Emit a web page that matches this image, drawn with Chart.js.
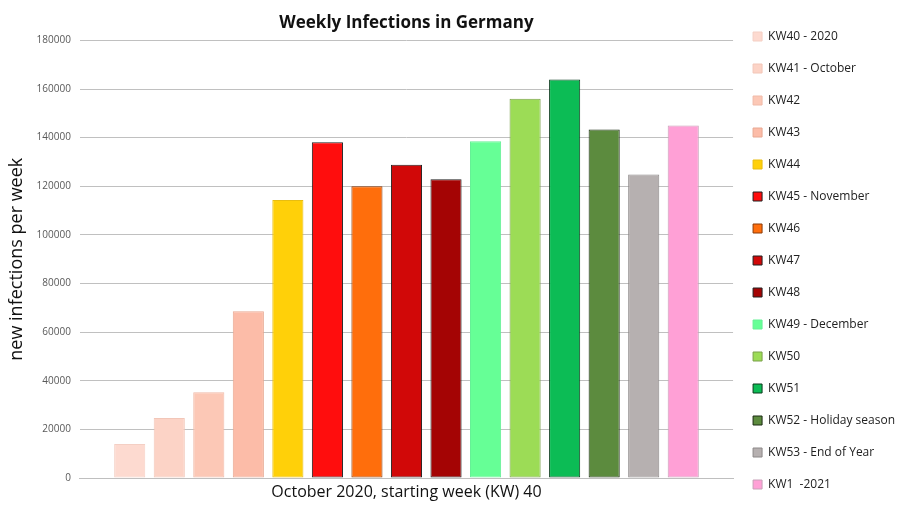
<!DOCTYPE html>
<html>
<head>
<meta charset="utf-8">
<script src="https://cdn.jsdelivr.net/npm/chart.js@4"></script>
<style>
  html, body { margin: 0; padding: 0; background: #fff; }
  #wrap { width: 909px; height: 512px; }
</style>
</head>
<body>
<div id="wrap"><canvas id="weekly_graph"></canvas></div>
<script>
// one category on the x axis, one dataset per week (like the original Excel chart)
var category = ["October 2020, starting week (KW) 40"];

var weeks = [
    "KW40 - 2020",
    "KW41 - October",
    "KW42",
    "KW43",
    "KW44",
    "KW45 - November",
    "KW46",
    "KW47",
    "KW48",
    "KW49 - December",
    "KW50",
    "KW51",
    "KW52 - Holiday season",
    "KW53 - End of Year",
    "KW1  -2021"
];

var infections = [
    14000, 24700, 35300, 68600, 114300,
    138100, 120000, 128900, 122900, 138500,
    156000, 163900, 143300, 124800, 145000
];

var fillColors = [
    "#FDDAD0", "#FCD3C6", "#FCC8B6", "#FCBCA8", "#FFD009",
    "#FF0D0D", "#FF6E0C", "#D10808", "#A40404", "#66FF96",
    "#9CDC56", "#0CBC55", "#5C8B3E", "#B6B0B0", "#FFA0D6"
];

var edgeColors = [
    "#F4CFC4", "#F2C6B8", "#F0BAA8", "#E8A892", "#E8BD10",
    "#202020", "#8A3A08", "#202020", "#202020", "#66F096",
    "#7AA04A", "#0A3A1C", "#1A2A12", "#8C8888", "#C8A0B8"
];

var datasets = weeks.map(function (w, i) {
    return {
        label: w,
        data: [infections[i]],
        backgroundColor: fillColors[i],
        borderColor: edgeColors[i],
        borderWidth: 1,
        borderSkipped: false
    };
});

var config = {
    type: 'bar',
    data: {
        labels: category,
        datasets: datasets
    },
    options: {
        responsive: true,
        maintainAspectRatio: false,
        animation: false,
        categoryPercentage: 0.908,
        barPercentage: 0.787,
        layout: {
            padding: { top: 9, right: 4, bottom: 0, left: 0 }
        },
        plugins: {
            title: {
                display: true,
                text: 'Weekly Infections in Germany',
                fullSize: false,
                color: '#111',
                font: { family: 'Open Sans', size: 17, weight: 'bold' },
                padding: { top: 4, bottom: 7 }
            },
            legend: {
                position: 'right',
                align: 'center',
                labels: {
                    boxWidth: 9,
                    boxHeight: 9,
                    padding: 20,
                    color: '#222',
                    font: { family: 'Open Sans', size: 12 }
                }
            },
            tooltip: { enabled: false }
        },
        scales: {
            x: {
                grid: { display: false, drawTicks: false },
                border: { display: true, color: '#BFBFBF' },
                ticks: {
                    color: '#111',
                    padding: 5,
                    font: { family: 'Open Sans', size: 16 }
                },
                afterFit: function (scale) { scale.height = 34; }
            },
            y: {
                min: 0,
                max: 180000,
                ticks: {
                    stepSize: 20000,
                    padding: 9,
                    color: '#595959',
                    font: { family: 'Open Sans', size: 10 },
                    callback: function (v) { return String(v); }
                },
                grid: { color: '#C0C0C0', drawTicks: false },
                border: { display: false },
                title: {
                    display: true,
                    text: 'new infections per week',
                    color: '#111',
                    font: { family: 'Open Sans', size: 18 },
                    padding: { top: 6, bottom: 0 }
                }
            }
        }
    }
};

var ctx = document.getElementById("weekly_graph").getContext("2d");
new Chart(ctx, config);
</script>
</body>
</html>
